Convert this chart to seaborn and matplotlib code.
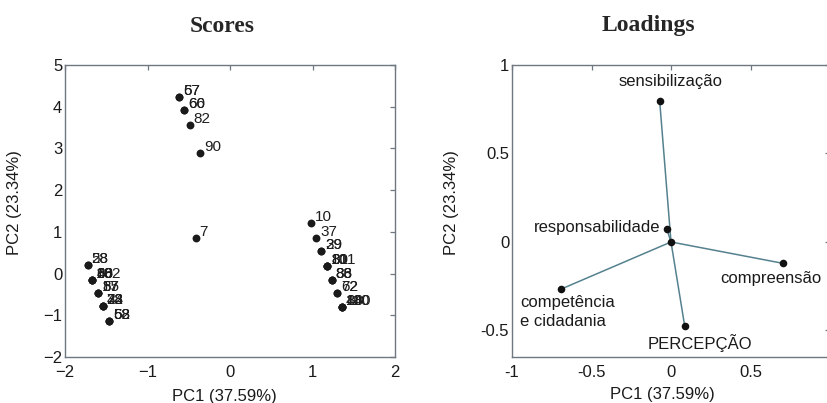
import matplotlib
matplotlib.use("Agg")
import matplotlib.pyplot as plt
import seaborn as sns
import pandas as pd

# PCA scores (PC1, PC2) with sample ids; several samples share a position
score_pc1 = [-0.614, -0.614, -0.558, -0.558, -0.489, -0.364, -0.416,
             -1.725, -1.725, -1.669, -1.669, -1.669, -1.669,
             -1.596, -1.596, -1.596, -1.543, -1.543, -1.543, -1.543,
             -1.467, -1.467, -1.467,
             0.978, 1.046, 1.103, 1.103, 1.176, 1.176, 1.176, 1.176,
             1.232, 1.232, 1.232, 1.301, 1.301, 1.358, 1.358, 1.358, 1.358]
score_pc2 = [4.24, 4.24, 3.92, 3.92, 3.56, 2.90, 0.856,
             0.216, 0.216, -0.144, -0.144, -0.144, -0.144,
             -0.456, -0.456, -0.456, -0.784, -0.784, -0.784, -0.784,
             -1.136, -1.136, -1.136,
             1.208, 0.856, 0.536, 0.536, 0.184, 0.184, 0.184, 0.184,
             -0.144, -0.144, -0.144, -0.456, -0.456, -0.808, -0.808, -0.808, -0.808]
score_ids = ["57", "67", "60", "66", "82", "90", "7",
             "28", "58", "102", "48", "60", "86",
             "17", "57", "85", "33", "22", "44", "78",
             "58", "52", "68",
             "10", "37", "29", "39", "101", "81", "31", "80",
             "36", "83", "88", "62", "72", "100", "110", "44", "88"]

# PCA loadings of the questionnaire dimensions
load_names = ["sensibilização", "responsabilidade", "compreensão",
              "competência\ne cidadania", "PERCEPÇÃO"]
load_pc1 = [-0.071, -0.027, 0.706, -0.693, 0.086]
load_pc2 = [0.794, 0.074, -0.121, -0.267, -0.474]

xlabel_txt = "PC1 (37.59%)"
ylabel_txt = "PC2 (23.34%)"

sns.set_style("white")
plt.rcParams["font.family"] = ["Liberation Sans", "DejaVu Sans"]

spine_col = "#6f7880"
line_col = "#55818f"

fig = plt.figure(figsize=(8.27, 4.03), dpi=100)
ax1 = fig.add_axes([65 / 827, 46 / 403, 330 / 827, 292 / 403])
ax2 = fig.add_axes([512 / 827, 46 / 403, 318 / 827, 292 / 403])

# --- Scores ---
scores = pd.DataFrame({"PC1": score_pc1, "PC2": score_pc2, "id": score_ids})
sns.scatterplot(data=scores, x="PC1", y="PC2", ax=ax1, color="#1a1a1a",
                s=32, linewidth=0, legend=False)
for x, y, t in zip(score_pc1, score_pc2, score_ids):
    ax1.annotate(t, (x, y), xytext=(4, 2), textcoords="offset pixels",
                 ha="left", va="baseline", fontsize=11, color="#1e1e1e")
ax1.set_xlim(-2, 2)
ax1.set_ylim(-2, 5)
ax1.set_xticks([-2, -1, 0, 1, 2])
ax1.set_yticks(range(-2, 6))

# --- Loadings ---
segs = []
for i, (x, y) in enumerate(zip(load_pc1, load_pc2)):
    segs.append({"seg": i, "PC1": 0.0, "PC2": 0.0})
    segs.append({"seg": i, "PC1": x, "PC2": y})
segs = pd.DataFrame(segs)
sns.lineplot(data=segs, x="PC1", y="PC2", units="seg", estimator=None,
             sort=False, ax=ax2, color=line_col, linewidth=1.1)
pts = pd.DataFrame({"PC1": load_pc1 + [0.0], "PC2": load_pc2 + [0.0]})
sns.scatterplot(data=pts, x="PC1", y="PC2", ax=ax2, color="#111111",
                s=30, linewidth=0, legend=False, zorder=3)

label_pos = [(0.0, 0.905, "center", "center"),
             (-0.067, 0.083, "right", "center"),
             (0.311, -0.204, "left", "center"),
             (-0.95, -0.395, "left", "center"),
             (0.179, -0.57, "center", "center")]
for name, (tx, ty, ha, va) in zip(load_names, label_pos):
    ax2.text(tx, ty, name, ha=ha, va=va, fontsize=12, color="#1a1a1a",
             linespacing=1.3)
ax2.set_xlim(-1, 1)
ax2.set_ylim(-0.65, 1)
ax2.set_xticks([-1, -0.5, 0, 0.5])
ax2.set_xticklabels(["-1", "-0.5", "0", "0.5"])
ax2.set_yticks([-0.5, 0, 0.5, 1])
ax2.set_yticklabels(["-0.5", "0", "0.5", "1"])

for ax in (ax1, ax2):
    for sp in ax.spines.values():
        sp.set_color(spine_col)
        sp.set_linewidth(1.0)
    ax.tick_params(direction="in", top=True, right=True, length=3.5,
                   width=0.9, color=spine_col, labelsize=12,
                   labelcolor="#1a1a1a")
    ax.tick_params(axis="x", pad=6)
    ax.tick_params(axis="y", pad=2)
    ax.set_xlabel(xlabel_txt, fontsize=12, color="#1a1a1a")
    ax.set_ylabel(ylabel_txt, fontsize=12, color="#1a1a1a")

ax1.xaxis.set_label_coords((224 - 65) / 330, (357 - 389) / 292)
ax1.yaxis.set_label_coords((22 - 65) / 330, (357 - 203) / 292)
ax2.xaxis.set_label_coords((662 - 512) / 318, (357 - 387) / 292)
ax2.yaxis.set_label_coords((459 - 512) / 318, (357 - 203) / 292)

fig.text(222 / 827, 1 - 26 / 403, "Scores", ha="center", va="center",
         fontsize=17, fontweight="bold", family="Liberation Serif")
fig.text(648 / 827, 1 - 26 / 403, "Loadings", ha="center", va="center",
         fontsize=17, fontweight="bold", family="Liberation Serif")

fig.savefig("out.png", dpi=100, facecolor="white")
